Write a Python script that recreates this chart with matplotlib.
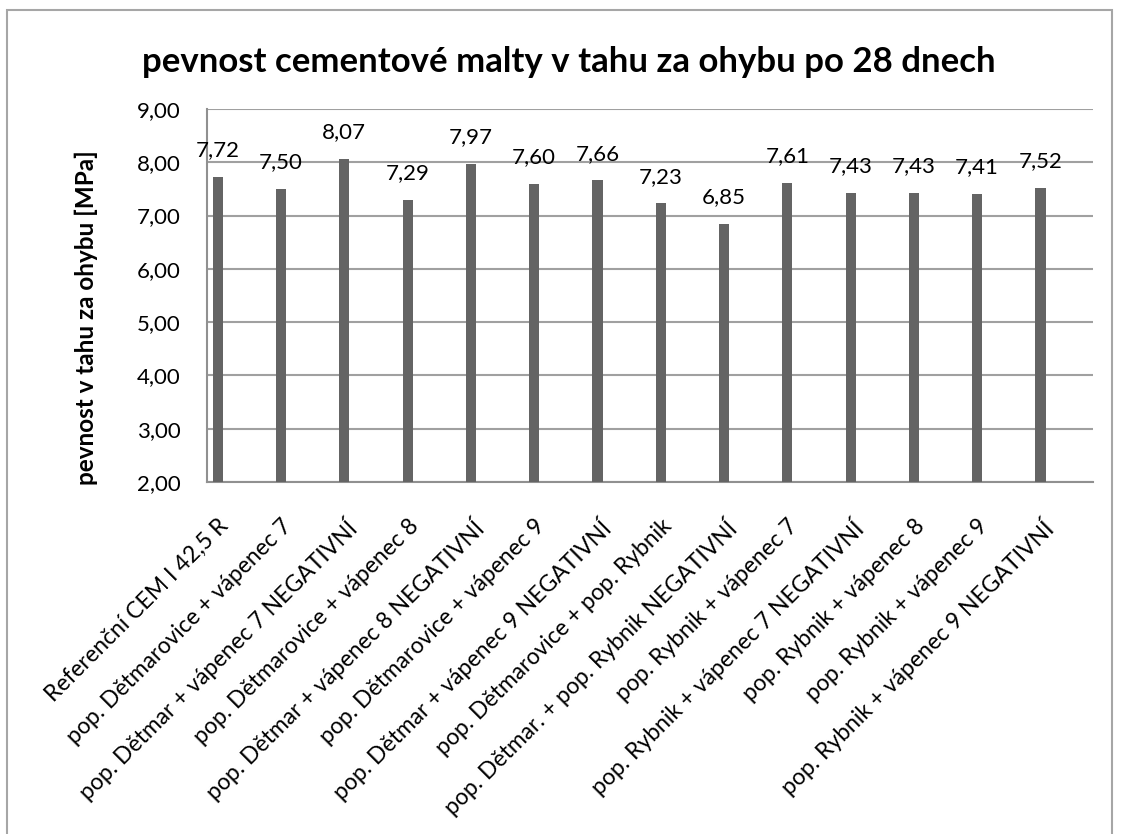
import matplotlib
matplotlib.use('Agg')
import matplotlib.pyplot as plt
import numpy as np
from matplotlib.patches import Rectangle
from matplotlib.ticker import FuncFormatter

plt.rcParams['font.family'] = ['Lato', 'DejaVu Sans']

categories = ['Referenční CEM I 42,5 R',
              'pop. Dětmarovice + vápenec 7',
              'pop. Dětmar + vápenec 7 NEGATIVNÍ',
              'pop. Dětmarovice + vápenec 8',
              'pop. Dětmar + vápenec 8 NEGATIVNÍ',
              'pop. Dětmarovice + vápenec 9',
              'pop. Dětmar + vápenec 9 NEGATIVNÍ',
              'pop. Dětmarovice + pop. Rybnik',
              'pop. Dětmar. + pop. Rybnik NEGATIVNÍ',
              'pop. Rybnik + vápenec 7',
              'pop. Rybnik + vápenec 7 NEGATIVNÍ',
              'pop. Rybnik + vápenec 8',
              'pop. Rybnik + vápenec 9',
              'pop. Rybnik + vápenec 9 NEGATIVNÍ']
values = [7.72, 7.50, 8.07, 7.29, 7.97, 7.60, 7.66, 7.23, 6.85, 7.61, 7.43, 7.43, 7.41, 7.52]

fig = plt.figure(figsize=(11.21, 8.34), dpi=100)
# ramecek kolem celeho grafu
fig.patches.append(Rectangle((7/1121, -0.01), 1105/1121, 1 - 10/834 + 0.01,
                             transform=fig.transFigure, fill=False,
                             edgecolor='#a6a6a6', linewidth=1.5))

ax = fig.add_axes([207/1121, 1 - 482/834, (1093 - 207)/1121, (482 - 109)/834])

x = np.arange(len(values)) - 0.33
ax.bar(x, values, width=0.16, color='#646464', zorder=3)

for xi, v in zip(x, values):
    ax.annotate(('%.2f' % v).replace('.', ','), (xi, v), xytext=(0, 12),
                textcoords='offset points', ha='center', va='bottom',
                fontsize=16, zorder=4)

ax.set_xlim(-0.5, len(values) - 0.5)
ax.set_ylim(2, 9)
ax.set_yticks(np.arange(2, 10, 1))
ax.yaxis.set_major_formatter(FuncFormatter(lambda v, p: ('%.2f' % v).replace('.', ',')))
ax.grid(axis='y', color='#a0a0a0', linewidth=1.5, zorder=0)
ax.set_xticks(x)
ax.set_xticklabels(categories, rotation=45, ha='right', rotation_mode='anchor')
ax.tick_params(axis='both', length=0)
ax.tick_params(axis='x', labelsize=16.5, pad=24)
ax.tick_params(axis='y', labelsize=16, pad=19)
for s in ['top', 'right']:
    ax.spines[s].set_visible(False)
for s in ['left', 'bottom']:
    ax.spines[s].set_color('#909090')
    ax.spines[s].set_linewidth(1.5)

ax.set_ylabel('pevnost v tahu za ohybu [MPa]', fontsize=17.5, fontweight='bold')
ax.yaxis.set_label_coords(-0.123, 0.442)
fig.text(569/1121, 1 - 62/834, 'pevnost cementové malty v tahu za ohybu po 28 dnech',
         ha='center', va='center', fontsize=25, fontweight='bold')

plt.savefig('out.png', dpi=100)
